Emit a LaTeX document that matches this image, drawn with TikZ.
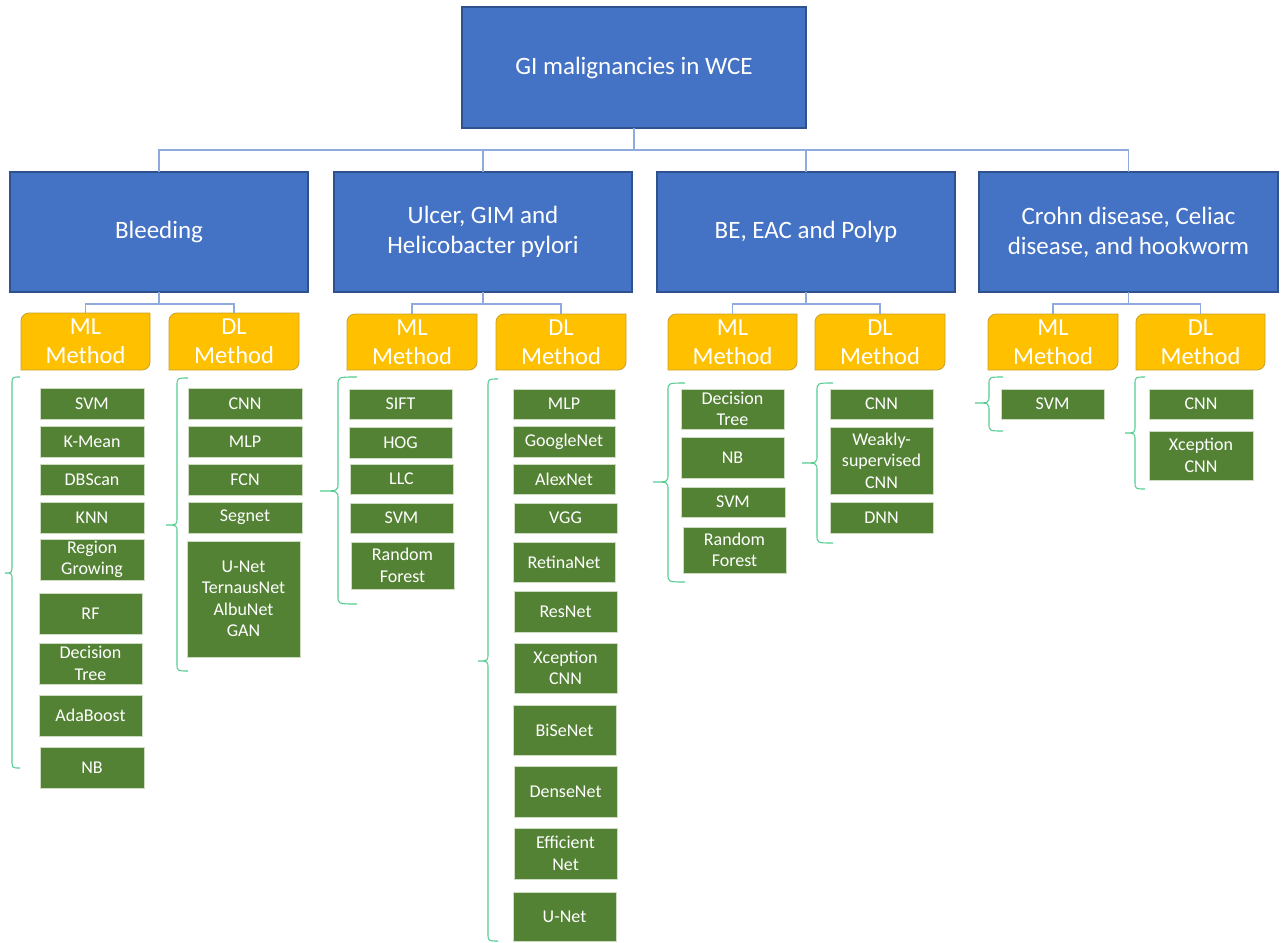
\documentclass[tikz,border=0pt]{standalone}
\usepackage{fontspec}
\setmainfont{Carlito}
\usetikzlibrary{backgrounds}
\definecolor{bluefill}{HTML}{4472C4}
\definecolor{blueline}{HTML}{2F528F}
\definecolor{yfill}{HTML}{FFC000}
\definecolor{yline}{HTML}{C9A227}
\definecolor{gfill}{HTML}{548235}
\definecolor{gline}{RGB}{205,220,195}
\definecolor{connc}{HTML}{8FAADC}
\definecolor{bracec}{RGB}{85,205,145}
\tikzset{
  catbox/.style={draw=blueline, fill=bluefill, line width=1.2pt, text=white, align=center,
    inner sep=0pt, outer sep=0pt, font=\fontsize{25}{30}\selectfont},
  ytext/.style={text=white, align=center, inner sep=0pt, outer sep=0pt,
    font=\fontsize{24.5}{29}\selectfont},
  yshape/.style={fill=yfill, draw=yline, line width=0.8pt},
  gbox/.style={draw=gline, fill=gfill, line width=0.8pt, text=white, align=center,
    inner sep=0pt, outer sep=0pt, font=\fontsize{18}{21.5}\selectfont},
  conn/.style={draw=connc, line width=1.3pt},
  bracepath/.style={draw=bracec, line width=1.1pt}
}
\newcommand\anybox[7]{\node[#1, minimum width={#5pt-#3pt}, minimum height={#6pt-#4pt}] (#2) at ({(#3+#5)/2},{(#4+#6)/2}) {#7};}
\newcommand\ybox[6]{\node[ytext, minimum width={#5pt-#3pt}, minimum height={#6pt-#4pt}] (#1) at ({(#3+#5)/2},{(#4+#6)/2}) {#2};
\begin{scope}[on background layer]\path[yshape] (#1.south west) -- ([yshift=-8pt]#1.north west) to[out=90,in=180] ([xshift=8pt]#1.north west) -- (#1.north east) -- ([yshift=8pt]#1.south east) to[out=-90,in=0] ([xshift=-8pt]#1.south east) -- cycle;\end{scope}}
% brace: x, top, mid, bottom, tip, hook
\newcommand\mybrace[6]{\draw[bracepath] (#6,#2) .. controls (#1,#2) .. (#1,{#2+8}) -- (#1,{#3-8}) .. controls (#1,#3) .. (#5,#3) .. controls (#1,#3) .. (#1,{#3+8}) -- (#1,{#4-8}) .. controls (#1,#4) .. (#6,#4);}
\begin{document}
\begin{tikzpicture}[x=1pt,y=-1pt]
\useasboundingbox (0,0) rectangle (1281,942);
% main boxes
\anybox{catbox}{top}{462}{7}{806}{128}{GI malignancies in WCE}
\anybox{catbox}{bleed}{10}{172}{308}{292}{Bleeding}
\anybox{catbox}{ulcer}{334}{172}{632}{292}{Ulcer, GIM and\\Helicobacter pylori}
\anybox{catbox}{be}{657}{172}{955}{292}{BE, EAC and Polyp}
\anybox{catbox}{crohn}{979}{172}{1278}{292}{Crohn disease, Celiac\\disease, and hookworm}
% method boxes
\ybox{bml}{ML\\Method}{21}{313}{150}{370}
\ybox{bdl}{DL\\Method}{169}{313}{299}{370}
\ybox{uml}{ML\\Method}{347}{314}{477}{370}
\ybox{udl}{DL\\Method}{496}{314}{626}{370}
\ybox{eml}{ML\\Method}{668}{314}{797}{370}
\ybox{edl}{DL\\Method}{815}{314}{945}{370}
\ybox{cml}{ML\\Method}{988}{314}{1118}{370}
\ybox{cdl}{DL\\Method}{1136}{314}{1265}{370}
% connectors
\foreach \c in {bleed,ulcer,be,crohn} {\draw[conn] (top.south) -- ++(0,22) -| (\c.north);}
\foreach \c/\m/\d in {bleed/bml/bdl,ulcer/uml/udl,be/eml/edl,crohn/cml/cdl} {
  \draw[conn] (\c.south) -- ++(0,12) -| (\m.north);
  \draw[conn] (\c.south) -- ++(0,12) -| (\d.north);
}
% Bleeding ML
\anybox{gbox}{b1}{40}{388}{144}{419}{SVM}
\anybox{gbox}{b2}{40}{426}{144}{457}{K-Mean}
\anybox{gbox}{b3}{40}{464}{144}{495}{DBScan}
\anybox{gbox}{b4}{40}{502}{144}{533}{KNN}
\anybox{gbox}{b5}{40}{539}{144}{580}{Region\\Growing}
\anybox{gbox}{b6}{39}{593}{142}{634}{RF}
\anybox{gbox}{b7}{39}{643}{142}{684}{Decision\\Tree}
\anybox{gbox}{b8}{39}{695}{142}{736}{AdaBoost}
\anybox{gbox}{b9}{40}{747}{144}{788}{NB}
% Bleeding DL
\anybox{gbox}{bd1}{188}{388}{302}{419}{CNN}
\anybox{gbox}{bd2}{188}{426}{302}{457}{MLP}
\anybox{gbox}{bd3}{188}{464}{302}{495}{FCN}
\anybox{gbox}{bd4}{188}{502}{302}{533}{Segnet}
\anybox{gbox}{bd5}{187}{541}{300}{657}{U-Net\\TernausNet\\AlbuNet\\GAN}
% Ulcer ML
\anybox{gbox}{u1}{349}{389}{452}{419}{SIFT}
\anybox{gbox}{u2}{349}{427}{452}{458}{HOG}
\anybox{gbox}{u3}{350}{464}{453}{494}{LLC}
\anybox{gbox}{u4}{350}{503}{453}{533}{SVM}
\anybox{gbox}{u5}{351}{542}{454}{589}{Random\\Forest}
% Ulcer DL
\anybox{gbox}{ud1}{513}{389}{615}{419}{MLP}
\anybox{gbox}{ud2}{513}{426}{615}{457}{GoogleNet}
\anybox{gbox}{ud3}{513}{464}{615}{494}{AlexNet}
\anybox{gbox}{ud4}{514}{503}{617}{533}{VGG}
\anybox{gbox}{ud5}{513}{542}{615}{582}{RetinaNet}
\anybox{gbox}{ud6}{514}{591}{617}{632}{ResNet}
\anybox{gbox}{ud7}{514}{643}{617}{693}{Xception\\CNN}
\anybox{gbox}{ud8}{513}{705}{616}{755}{BiSeNet}
\anybox{gbox}{ud9}{514}{766}{617}{817}{DenseNet}
\anybox{gbox}{ud10}{514}{828}{617}{879}{Efficient\\Net}
\anybox{gbox}{ud11}{513}{892}{616}{941}{U-Net}
% BE ML
\anybox{gbox}{e1}{681}{389}{784}{429}{Decision\\Tree}
\anybox{gbox}{e2}{681}{437}{784}{478}{NB}
\anybox{gbox}{e3}{681}{487}{785}{517}{SVM}
\anybox{gbox}{e4}{683}{527}{786}{573}{Random\\Forest}
% BE DL
\anybox{gbox}{ed1}{830}{389}{933}{419}{CNN}
\anybox{gbox}{ed2}{830}{427}{933}{494}{Weakly-\\supervised\\CNN}
\anybox{gbox}{ed3}{830}{502}{933}{533}{DNN}
% Crohn
\anybox{gbox}{c1}{1001}{389}{1104}{419}{SVM}
\anybox{gbox}{cd1}{1149}{389}{1253}{419}{CNN}
\anybox{gbox}{cd2}{1149}{431}{1253}{480}{Xception\\CNN}
% braces
\mybrace{12}{377}{573}{768}{5}{20}
\mybrace{177}{378}{525}{671}{166}{188}
\mybrace{338}{377}{491}{604}{320}{357}
\mybrace{488}{379}{661}{941}{478}{498}
\mybrace{668}{383}{482}{582}{653}{685}
\mybrace{817}{383}{463}{543}{802}{833}
\mybrace{989}{377}{403}{431}{975}{1003}
\mybrace{1135}{377}{433}{489}{1125}{1145}
\end{tikzpicture}
\end{document}
